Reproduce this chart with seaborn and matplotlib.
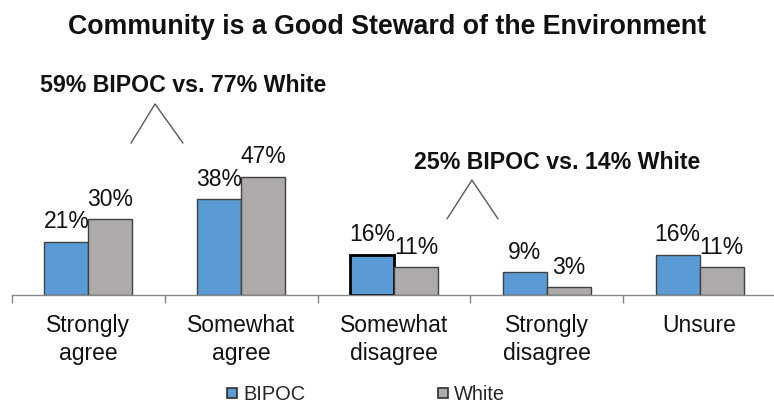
import matplotlib
matplotlib.use("Agg")
import matplotlib.pyplot as plt
import seaborn as sns
import pandas as pd
from matplotlib.lines import Line2D

categories = ["Strongly\nagree", "Somewhat\nagree", "Somewhat\ndisagree", "Strongly\ndisagree", "Unsure"]
bipoc = [21, 38, 16, 9, 16]
white = [30, 47, 11, 3, 11]
series = ["BIPOC", "White"]
colors = {"BIPOC": "#5B9BD5", "White": "#AEAAAA"}
title = "Community is a Good Steward of the Environment"
note1 = "59% BIPOC vs. 77% White"
note2 = "25% BIPOC vs. 14% White"

df = pd.DataFrame({
    "cat": categories * 2,
    "val": bipoc + white,
    "group": ["BIPOC"] * len(categories) + ["White"] * len(categories),
})

sns.set_theme(style="white")
plt.rcParams["font.family"] = ["Liberation Sans", "DejaVu Sans"]

W, H = 774, 406
fig = plt.figure(figsize=(W / 100, H / 100), dpi=100)
ax = fig.add_axes([12 / W, 110 / H, 764 / W, 252 / H])

sns.barplot(data=df, x="cat", y="val", hue="group", hue_order=series,
            palette=colors, width=0.576, edgecolor="#404040", linewidth=1,
            saturation=1, ax=ax, legend=False)

# highlighted bar (Somewhat disagree, BIPOC) has a heavier black outline
ax.containers[0].patches[2].set_edgecolor("black")
ax.containers[0].patches[2].set_linewidth(2)

for cont in ax.containers:
    ax.bar_label(cont, labels=[f"{int(v)}%" for v in cont.datavalues],
                 padding=7, fontsize=16.5, color="#111111")

ax.set_xlim(-0.5, len(categories) - 0.5)
ax.set_ylim(0, 100)
ax.set_xlabel("")
ax.set_ylabel("")
ax.set_yticks([])

# boundary ticks (major) and centered labels (minor)
ax.set_xticks([i - 0.5 for i in range(len(categories) + 1)])
ax.set_xticklabels([])
ax.set_xticks(range(len(categories)), minor=True)
ax.set_xticklabels(categories, minor=True, fontsize=16.5, color="#111111", linespacing=1.25)
ax.tick_params(axis="x", which="major", direction="out", length=6, width=1,
               color="#868686", bottom=True)
ax.tick_params(axis="x", which="minor", length=0, pad=13)

for s in ["top", "right", "left"]:
    ax.spines[s].set_visible(False)
ax.spines["bottom"].set_color("#868686")
ax.spines["bottom"].set_linewidth(1)

# annotations with carets
ax.plot([0.279, 0.436, 0.619], [60.3, 75.8, 60.3], color="#595959", lw=1, clip_on=False)
ax.text(0.622, 81.0, note1, ha="center", va="baseline", fontsize=16.7,
        fontweight="bold", color="#111111", clip_on=False)
ax.plot([2.347, 2.510, 2.681], [30.2, 45.6, 30.2], color="#595959", lw=1, clip_on=False)
ax.text(3.067, 50.4, note2, ha="center", va="baseline", fontsize=16.7,
        fontweight="bold", color="#111111", clip_on=False)

fig.text(0.5, 1 - 34 / H, title, ha="center", va="baseline", fontsize=19.3,
         fontweight="bold", color="#111111")

handles = [Line2D([], [], linestyle="none", marker="s", markersize=6.5,
                  markerfacecolor=colors[s], markeredgecolor="#303030",
                  markeredgewidth=1.2) for s in series]
fig.legend(handles, series, loc="center", bbox_to_anchor=(366 / W, 1 - 395 / H), ncol=2,
           frameon=False, fontsize=14.4, handlelength=0.5,
           handletextpad=0.3, columnspacing=6.6)

fig.savefig("out.png", dpi=100)
